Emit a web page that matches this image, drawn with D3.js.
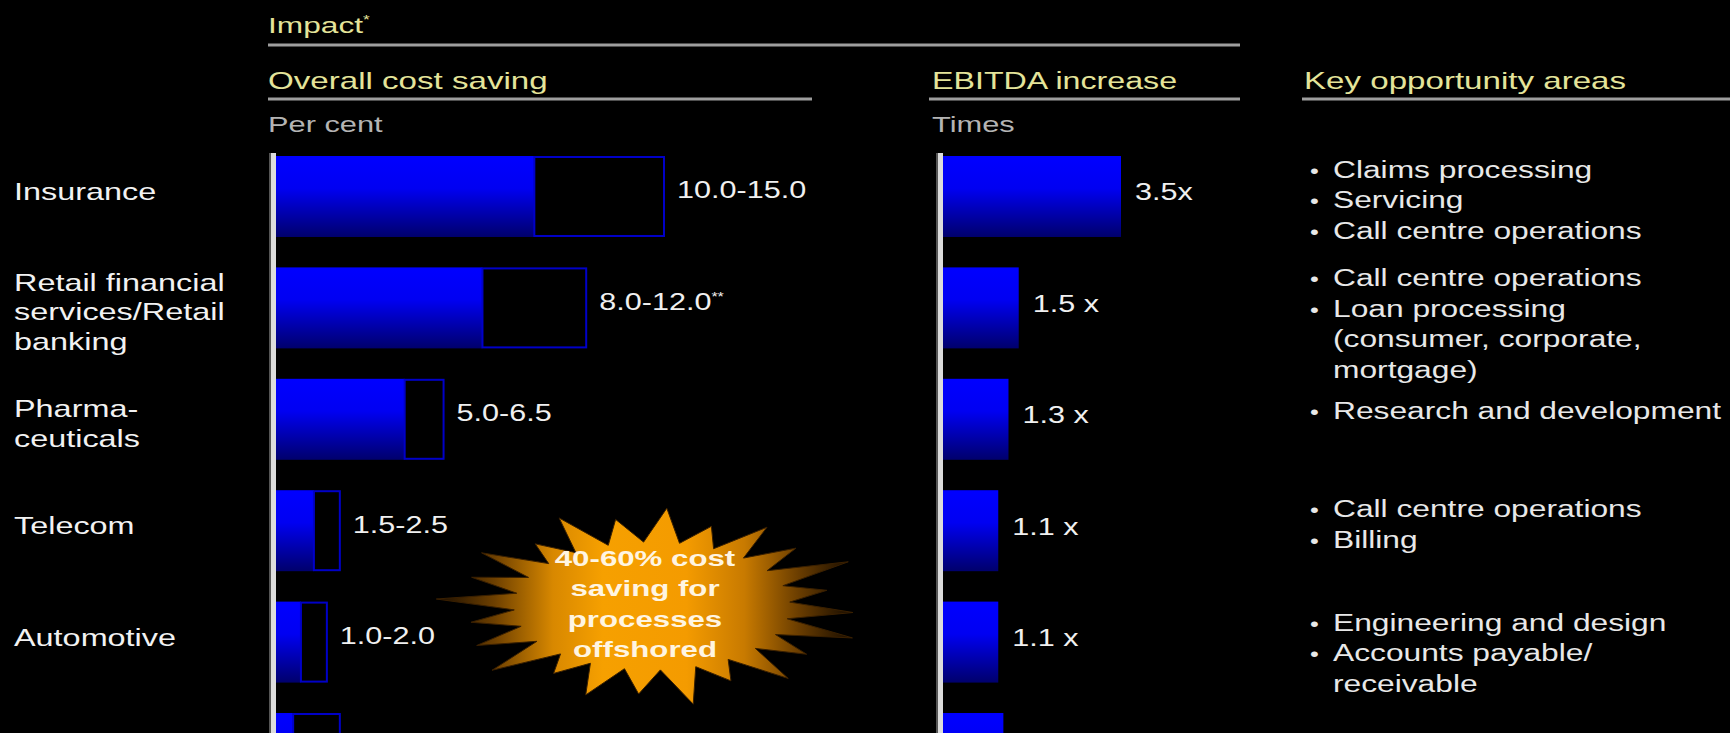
<!DOCTYPE html>
<html>
<head>
<meta charset="utf-8">
<script src="https://cdn.jsdelivr.net/npm/d3@7"></script>
<style>
  html, body { margin: 0; padding: 0; background: #000; }
  svg { display: block; }
</style>
</head>
<body>
<svg id="chart" width="1730" height="733"></svg>
<script>
// ---- data ----
const industries = [
  "Insurance",
  "Retail financial\nservices/Retail\nbanking",
  "Pharma-\nceuticals",
  "Telecom",
  "Automotive",
  ""
];
const costLow  = [10.0, 8.0, 5.0, 1.5, 1.0, 0.7];
const costHigh = [15.0, 12.0, 6.5, 2.5, 2.0, 2.5];
const costNotes = ["", "**", "", "", "", ""];
const costShown = [true, true, true, true, true, false];
const ebitdaTimes = [3.5, 1.5, 1.3, 1.1, 1.1, 1.2];
const ebitdaLabels = ["3.5x", "1.5 x", "1.3 x", "1.1 x", "1.1 x", ""];
const opportunities = [
  [["Claims processing"], ["Servicing"], ["Call centre operations"]],
  [["Call centre operations"], ["Loan processing", "(consumer, corporate,", "mortgage)"]],
  [["Research and development"]],
  [["Call centre operations"], ["Billing"]],
  [["Engineering and design"], ["Accounts payable/", "receivable"]],
  []
];
const burstLines = ["40-60% cost", "saving for", "processes", "offshored"];

// ---- layout ----
const svg = d3.select("#chart");
const FONT = "'Liberation Sans', Arial, Helvetica, sans-serif";
const SX = 1.44;          // horizontal stretch of the lettering
const HEAD = "#e4e49a";
const RULE = "#9e9e9e";
// vertical nudge of each bullet block against its row centre
const bulletNudge = [0, 12, -12, -10, 7, 0];

const defs = svg.append("defs");
const barGrad = defs.append("linearGradient").attr("id", "barGrad")
  .attr("x1", 0).attr("y1", 0).attr("x2", 0).attr("y2", 1);
[[0, "#0000ff"], [0.4, "#0000f2"], [1, "#00006c"]].forEach(([o, c]) =>
  barGrad.append("stop").attr("offset", o).attr("stop-color", c));

const burstGrad = defs.append("linearGradient").attr("id", "burstGrad")
  .attr("x1", 0).attr("y1", 0).attr("x2", 1).attr("y2", 0);
[[0, "#1a0d00"], [0.14, "#6e4000"], [0.28, "#d88800"], [0.4, "#f6a000"],
 [0.6, "#f49b00"], [0.74, "#c87a00"], [0.87, "#6a3d00"], [1, "#140a00"]]
  .forEach(([o, c]) => burstGrad.append("stop").attr("offset", o).attr("stop-color", c));

function label(parent, x, y, str, o) {
  const g = parent.append("g")
    .attr("transform", `translate(${x},${y}) scale(${o.sx || SX},1)`);
  return g.append("text")
    .attr("font-family", FONT)
    .attr("font-size", o.size)
    .attr("font-weight", o.weight || "normal")
    .attr("fill", o.fill)
    .attr("text-anchor", o.anchor || "start")
    .text(str);
}

// ---- scales ----
const rows = d3.range(industries.length);
const y = d3.scaleBand().domain(rows).range([156, 794]).paddingInner(0.273).paddingOuter(0);
const xCost = d3.scaleLinear().domain([0, 15]).range([275, 664]);
const xEbitda = d3.scaleLinear().domain([0, 3.5]).range([942, 1121]);
const mid = i => y(i) + y.bandwidth() / 2;

// ---- headings ----
const imp = label(svg, 268, 33, "Impact", { size: 22, fill: HEAD });
imp.append("tspan").attr("font-size", 12).attr("dy", -9).text("*");
svg.append("line").attr("x1", 268).attr("x2", 1240).attr("y1", 45).attr("y2", 45)
  .attr("stroke", RULE).attr("stroke-width", 3);

label(svg, 268, 89, "Overall cost saving", { size: 23, fill: HEAD });
svg.append("line").attr("x1", 268).attr("x2", 812).attr("y1", 99).attr("y2", 99)
  .attr("stroke", RULE).attr("stroke-width", 3);
label(svg, 268, 132, "Per cent", { size: 22, fill: "#b4b4b4", sx: 1.4 });

label(svg, 932, 89, "EBITDA increase", { size: 23, fill: HEAD, sx: 1.4 });
svg.append("line").attr("x1", 929).attr("x2", 1240).attr("y1", 99).attr("y2", 99)
  .attr("stroke", RULE).attr("stroke-width", 3);
label(svg, 932, 132, "Times", { size: 22, fill: "#b4b4b4", sx: 1.4 });

label(svg, 1304, 89, "Key opportunity areas", { size: 23, fill: HEAD });
svg.append("line").attr("x1", 1302).attr("x2", 1730).attr("y1", 99).attr("y2", 99)
  .attr("stroke", RULE).attr("stroke-width", 3);

// ---- industry labels ----
rows.forEach(i => {
  const lines = industries[i] ? industries[i].split("\n") : [];
  const lh = 29.5;
  const centre = mid(i) - 5 + (lines.length > 1 ? 9 : 0);
  const c0 = centre - (lines.length - 1) * lh / 2;
  lines.forEach((ln, k) => label(svg, 14, c0 + k * lh + 8.5, ln, { size: 24, fill: "#f2f2f2", sx: 1.35 }));
});

// ---- cost saving bars ----
const cost = svg.append("g");
cost.selectAll("rect.solid").data(rows).join("rect").attr("class", "solid")
  .attr("x", xCost(0)).attr("y", i => y(i))
  .attr("width", i => xCost(costLow[i]) - xCost(0))
  .attr("height", y.bandwidth())
  .attr("fill", "url(#barGrad)");
cost.selectAll("rect.range").data(rows).join("rect").attr("class", "range")
  .attr("x", i => xCost(costLow[i])).attr("y", i => y(i) + 1)
  .attr("width", i => xCost(costHigh[i]) - xCost(costLow[i]))
  .attr("height", y.bandwidth() - 2)
  .attr("fill", "none").attr("stroke", "#0000c8").attr("stroke-width", 2);

const fmt = d3.format(".1f");
rows.filter(i => costShown[i]).forEach(i => {
  const t = label(svg, xCost(costHigh[i]) + 13, mid(i) + 2,
    fmt(costLow[i]) + "-" + fmt(costHigh[i]), { size: 23, fill: "#f0f0f0", sx: 1.33 });
  if (costNotes[i]) t.append("tspan").attr("font-size", 12).attr("dy", -9).text(costNotes[i]);
});

// ---- EBITDA bars ----
const eb = svg.append("g");
eb.selectAll("rect").data(rows).join("rect")
  .attr("x", xEbitda(0)).attr("y", i => y(i))
  .attr("width", i => xEbitda(ebitdaTimes[i]) - xEbitda(0))
  .attr("height", y.bandwidth())
  .attr("fill", "url(#barGrad)");
rows.filter(i => ebitdaLabels[i]).forEach(i =>
  label(svg, xEbitda(ebitdaTimes[i]) + 14, mid(i) + 4, ebitdaLabels[i], { size: 23, fill: "#f0f0f0", sx: 1.33 }));

// ---- value axes ----
[xCost(0) - 3, xEbitda(0) - 3].forEach(x => {
  svg.append("rect").attr("x", x - 3).attr("y", 153).attr("width", 2).attr("height", 733 - 153).attr("fill", "#555");
  svg.append("rect").attr("x", x - 1).attr("y", 153).attr("width", 5).attr("height", 733 - 153).attr("fill", "#dcdcdc");
});

// ---- key opportunity areas ----
rows.forEach(i => {
  const items = opportunities[i];
  const n = d3.sum(items, it => it.length);
  if (!n) return;
  const lh = 30.5;
  let cy = mid(i) + 4 + bulletNudge[i] - (n - 1) * lh / 2;
  items.forEach(it => {
    it.forEach((ln, k) => {
      if (k === 0) label(svg, 1310, cy + 8, "\u2022", { size: 21, fill: "#e8e8e8", sx: 1.2 });
      label(svg, 1333, cy + 8, ln, { size: 23, fill: "#e8e8e8", sx: 1.38 });
      cy += lh;
    });
  });
});

// ---- starburst callout ----
const cx = 652, cyB = 606;
const spikes = [1.0, 0.86, 0.97, 0.9, 1.03, 0.84, 0.95, 1.0, 0.88, 0.98, 0.85, 1.02,
                0.9, 0.96, 0.83, 1.0, 0.92, 0.87, 1.02, 0.9, 0.97, 0.84, 1.0, 0.9];
const N = spikes.length;
const pts = [];
for (let k = 0; k < 2 * N; k++) {
  const a = -Math.PI / 2 + k * Math.PI / N + 0.07;
  const outer = k % 2 === 0;
  const f = outer ? spikes[k / 2] : 1;
  const rx = outer ? 212 * f : 138, ry = outer ? 98 * f : 64;
  pts.push([cx + rx * Math.cos(a), cyB + ry * Math.sin(a)]);
}
svg.append("path").attr("d", d3.line()(pts) + "Z")
  .attr("fill", "url(#burstGrad)").attr("stroke", "#3a2000").attr("stroke-width", 1);
burstLines.forEach((ln, k) =>
  label(svg, 645, 565.5 + k * 30.5, ln, { size: 22, weight: "bold", fill: "#fff5e2", anchor: "middle", sx: 1.42 }));
</script>
</body>
</html>
